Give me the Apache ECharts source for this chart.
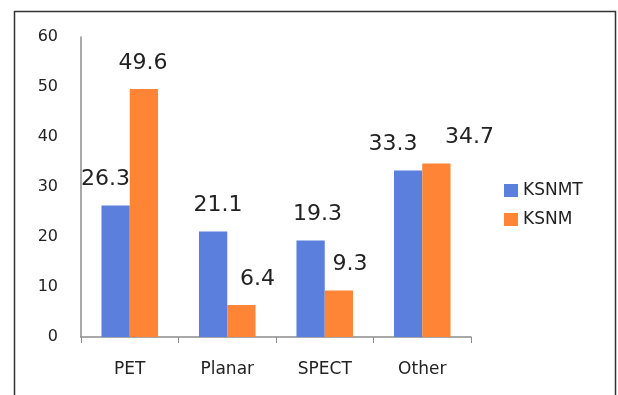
<!DOCTYPE html>
<html>
<head>
<meta charset="utf-8">
<script src="https://cdn.jsdelivr.net/npm/echarts@6/dist/echarts.min.js"></script>
<style>
html,body{margin:0;padding:0;background:#fff;}
#main{width:618px;height:395px;}
</style>
</head>
<body>
<div id="main"></div>
<script>
var categories = ['PET', 'Planar', 'SPECT', 'Other'];
var ksnmtData = [26.3, 21.1, 19.3, 33.3];
var ksnmData = [49.6, 6.4, 9.3, 34.7];
var yTicks = [0, 60, 10]; // min, max, step

// label nudges (px) like the hand-placed labels in the original
var ksnmtShift = [-10, 5, 7, -15];
var ksnmShift = [-1, 16, 11, 33];

var chart = echarts.init(document.getElementById('main'));

function makeData(vals, shifts) {
    var out = [];
    for (var i = 0; i < vals.length; i++) {
        out.push({value: vals[i], label: {offset: [shifts[i], 0]}});
    }
    return out;
}

var labelStyle = {
    show: true,
    position: 'top',
    distance: 15,
    fontFamily: 'DejaVu Sans',
    fontSize: 22,
    color: '#222'
};

var option = {
    animation: false,
    backgroundColor: '#fff',
    graphic: [{
        type: 'rect',
        left: 12,
        top: 9,
        shape: {width: 601, height: 400},
        style: {fill: 'none', stroke: '#333', lineWidth: 1.5},
        silent: true
    }],
    grid: {left: 81, right: 147, top: 37, bottom: 58},
    legend: {
        orient: 'vertical',
        left: 499,
        top: 177,
        itemWidth: 14,
        itemHeight: 13,
        itemGap: 12,
        icon: 'rect',
        textStyle: {fontFamily: 'DejaVu Sans', fontSize: 17, color: '#222'},
        data: ['KSNMT', 'KSNM']
    },
    xAxis: {
        type: 'category',
        data: categories,
        axisLine: {lineStyle: {color: '#8c8c8c', width: 1.5}},
        axisTick: {show: true, length: 6, lineStyle: {color: '#8c8c8c'}},
        axisLabel: {fontFamily: 'DejaVu Sans', fontSize: 17, color: '#222', margin: 24}
    },
    yAxis: {
        type: 'value',
        min: yTicks[0],
        max: yTicks[1],
        interval: yTicks[2],
        axisLine: {show: true, lineStyle: {color: '#8c8c8c', width: 1.5}},
        axisTick: {show: false},
        splitLine: {show: false},
        axisLabel: {fontFamily: 'DejaVu Sans', fontSize: 16, color: '#222', margin: 23}
    },
    series: [{
        name: 'KSNMT',
        type: 'bar',
        data: makeData(ksnmtData, ksnmtShift),
        barGap: '0%',
        barCategoryGap: '42%',
        itemStyle: {color: '#5b7fdc'},
        label: labelStyle
    }, {
        name: 'KSNM',
        type: 'bar',
        data: makeData(ksnmData, ksnmShift),
        itemStyle: {color: '#fd8535'},
        label: labelStyle
    }]
};
chart.setOption(option);
</script>
</body>
</html>
